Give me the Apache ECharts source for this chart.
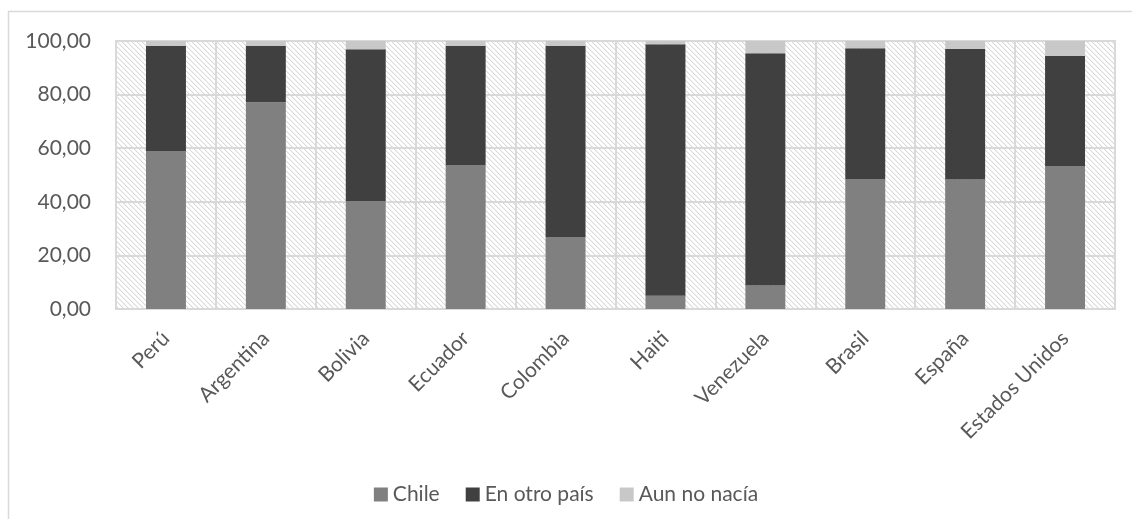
<!DOCTYPE html>
<html>
<head>
<meta charset="utf-8">
<script src="https://cdn.jsdelivr.net/npm/echarts@6/dist/echarts.min.js"></script>
<style>
  html, body { margin: 0; padding: 0; background: #fff; }
  #chart { width: 1132px; height: 519px; }
</style>
</head>
<body>
<div id="chart"></div>
<script>
// Lugar de residencia por país de origen (porcentajes)
const categories = ['Perú', 'Argentina', 'Bolivia', 'Ecuador', 'Colombia', 'Haiti', 'Venezuela', 'Brasil', 'España', 'Estados Unidos'];
const chile      = [59.0, 77.1, 40.3, 53.7, 26.9, 4.9, 8.8, 48.5, 48.3, 53.4];
const otroPais   = [39.2, 21.0, 56.6, 44.4, 71.3, 93.9, 86.6, 48.8, 48.7, 41.1];
const noNacia    = [1.8, 1.9, 3.1, 1.9, 1.8, 1.2, 4.6, 2.7, 3.0, 5.5];
const seriesNames = ['Chile', 'En otro país', 'Aun no nacía'];

// light downward diagonal hatch used as the plot background
function hatchPattern() {
  const n = 5;
  const c = document.createElement('canvas');
  c.width = n; c.height = n;
  const ctx = c.getContext('2d');
  ctx.fillStyle = '#ffffff';
  ctx.fillRect(0, 0, n, n);
  for (let x = 0; x < n; x++) {
    for (let y = 0; y < n; y++) {
      const d = ((x - y) % n + n) % n;
      if (d === 0) { ctx.fillStyle = '#d9d9d9'; ctx.fillRect(x, y, 1, 1); }
      else if (d === 1) { ctx.fillStyle = '#f2f2f2'; ctx.fillRect(x, y, 1, 1); }
    }
  }
  return { image: c, repeat: 'repeat' };
}

const FONT = 'Lato, "Open Sans", sans-serif';
const TXT = '#595959';
const GRIDC = '#d9d9d9';

const chart = echarts.init(document.getElementById('chart'));
chart.setOption({
  animation: false,
  textStyle: { fontFamily: FONT },
  graphic: [{
    type: 'rect',
    shape: { x: 8.5, y: 11.5, width: 1300, height: 700 },
    style: { fill: null, stroke: GRIDC, lineWidth: 1.5 },
    silent: true,
    z: -10
  }],
  grid: {
    left: 116, right: 17, top: 41, bottom: 210,
    show: true,
    backgroundColor: hatchPattern(),
    borderColor: GRIDC,
    borderWidth: 2
  },
  legend: {
    top: 479,
    left: 'center',
    icon: 'rect',
    itemWidth: 14,
    itemHeight: 14,
    itemGap: 26,
    textStyle: { fontFamily: FONT, fontSize: 21, color: TXT },
    data: seriesNames
  },
  xAxis: {
    type: 'category',
    data: categories,
    axisLine: { show: true, lineStyle: { color: GRIDC, width: 2 } },
    axisTick: { show: false },
    splitLine: { show: true, lineStyle: { color: GRIDC, width: 2 } },
    axisLabel: { rotate: 45, fontSize: 21, color: TXT, margin: 26, fontFamily: FONT, interval: 0 }
  },
  yAxis: {
    type: 'value',
    min: 0, max: 100, interval: 20,
    axisLine: { show: false },
    axisTick: { show: false },
    splitLine: { show: true, lineStyle: { color: GRIDC, width: 2 } },
    axisLabel: {
      fontSize: 21, color: TXT, margin: 25, fontFamily: FONT,
      formatter: v => v.toFixed(2).replace('.', ',')
    }
  },
  series: [
    { name: seriesNames[0], type: 'bar', stack: 'total', data: chile, barWidth: '40%', itemStyle: { color: '#808080' } },
    { name: seriesNames[1], type: 'bar', stack: 'total', data: otroPais, barWidth: '40%', itemStyle: { color: '#404040' } },
    { name: seriesNames[2], type: 'bar', stack: 'total', data: noNacia, barWidth: '40%', itemStyle: { color: '#c8c8c8' } }
  ]
});
</script>
</body>
</html>
